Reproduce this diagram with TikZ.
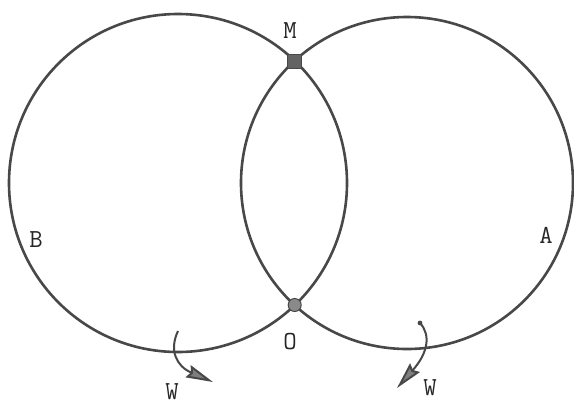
\documentclass[tikz,border=0pt]{standalone}
\usetikzlibrary{arrows.meta}
\definecolor{ink}{HTML}{484848}
\definecolor{inkfill}{HTML}{8A8A8A}
\begin{document}
\begin{tikzpicture}[x=1pt,y=-1pt,
  ring/.style={draw=ink,line width=2.6pt},
  lbl/.style={font=\fontsize{26}{26}\selectfont\ttfamily,text=black!85,inner sep=0pt},
  sqmark/.style={rectangle,draw=ink,fill=ink!85,minimum size=14pt,inner sep=0pt,line width=1pt},
  dotmark/.style={circle,draw=ink,fill=inkfill,minimum size=13pt,inner sep=0pt,line width=1pt},
  turn/.style={draw=ink,line width=2pt,-{Stealth[length=27pt,width=13pt,inset=3pt,fill=ink!70]}}]
\useasboundingbox (0,0) rectangle (574,405);
\fill[white] (0,0) rectangle (574,405);
% circles
\draw[ring] (178,183) circle[radius=169];
\draw[ring] (407,183) circle[radius=166];
% intersection markers
\node[sqmark] (M) at (294.7,61) {};
\node[dotmark] (O) at (294.7,305) {};
% labels
\node[lbl] (Mt) at (290,31) {M};
\node[lbl] (Ot) at (290,342) {O};
\node[lbl] (Bt) at (36,240) {B};
\node[lbl] (At) at (546,235) {A};
\node[lbl] (W1) at (172,392) {W};
\node[lbl] (W2) at (430,388) {W};
% rotation arrows
\coordinate (s1) at (178,331);
\coordinate (e1) at (213,382);
\draw[turn] (s1) .. controls (169,350) and (176,366) .. (e1);
\coordinate (s2) at (420,323);
\coordinate (e2) at (397,388);
\fill[ink] (s2) circle[radius=2.4];
\draw[turn] (s2) .. controls (431,335) and (428,353) .. (e2);
\end{tikzpicture}
\end{document}
